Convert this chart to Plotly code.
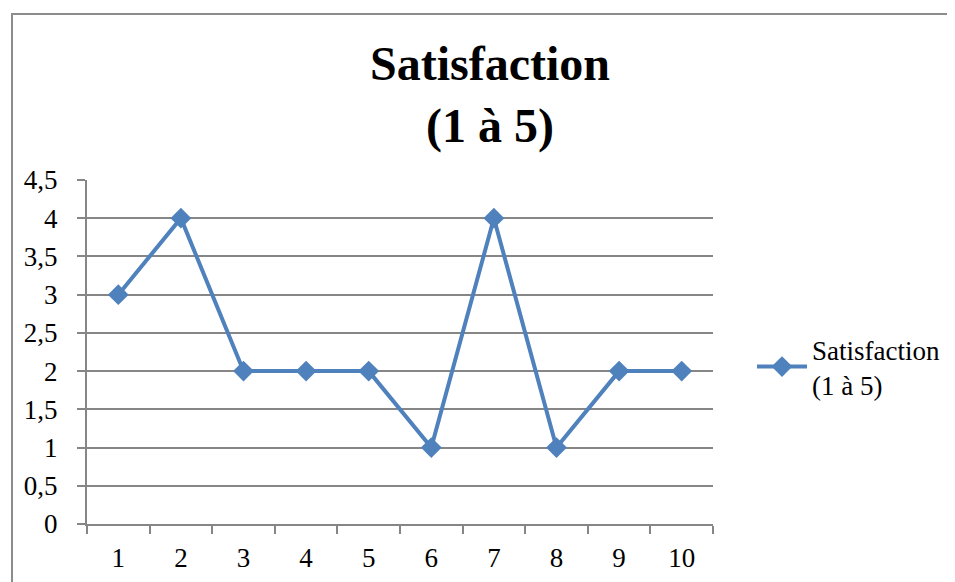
import plotly.graph_objects as go

categories = ["1", "2", "3", "4", "5", "6", "7", "8", "9", "10"]
satisfaction = [3, 4, 2, 2, 2, 1, 4, 1, 2, 2]
series_name = "Satisfaction<br>(1 à 5)"
title_text = "<b>Satisfaction<br>(1 à 5)</b>"
y_ticks = [0, 0.5, 1, 1.5, 2, 2.5, 3, 3.5, 4, 4.5]

W, H = 955, 582
OFF = 8  # page body margin
L, R, T, B = 87, 713, 180, 524
pw, ph = R - L, B - T

def px_x(p):
    return (p - L) / pw

def px_y(p):
    return (B - p) / ph

blue = "#4F81BD"
grid = "#868686"
font = "Liberation Serif"

fig = go.Figure()
fig.add_trace(go.Scatter(
    x=categories, y=satisfaction, name=series_name,
    mode="lines+markers",
    line=dict(color=blue, width=4),
    marker=dict(symbol="diamond", size=16, color=blue),
    showlegend=True,
))

fig.update_layout(
    width=W, height=H, autosize=False,
    margin=dict(l=L - OFF, r=W - (R - OFF), t=T - OFF, b=H - (B - OFF), pad=0),
    paper_bgcolor="white", plot_bgcolor="white",
    separators=", ",
    font=dict(family=font, size=27, color="black"),
    title=dict(text=title_text, x=(490 - OFF) / W, xanchor="center",
               y=1 - (80 - OFF) / H, yanchor="middle",
               font=dict(family=font, size=48, color="black")),
    showlegend=True,
    legend=dict(x=px_x(752), xanchor="left", y=px_y(367), yanchor="middle",
                font=dict(family=font, size=27), bgcolor="rgba(0,0,0,0)",
                itemwidth=50),
    xaxis=dict(type="category", tickson="boundaries", ticks="outside",
               range=[-0.5, len(categories) - 0.5],
               ticklen=8, tickcolor=grid, tickwidth=2,
               showgrid=False, showline=True, linecolor=grid, linewidth=2,
               zeroline=False, ticklabelstandoff=9,
               tickfont=dict(family=font, size=27)),
    yaxis=dict(range=[0, 4.5], tickvals=y_ticks, ticks="outside",
               ticklen=8, tickcolor=grid, tickwidth=2,
               showgrid=True, gridcolor=grid, gridwidth=2,
               showline=True, linecolor=grid, linewidth=2,
               zeroline=False, ticklabelstandoff=14,
               tickfont=dict(family=font, size=27)),
    shapes=[dict(type="rect", xref="paper", yref="paper",
                 x0=px_x(12), x1=px_x(1100), y0=px_y(700), y1=px_y(14),
                 line=dict(color="#8C8C8C", width=2), layer="below")],
)

fig.write_html("out.html")
